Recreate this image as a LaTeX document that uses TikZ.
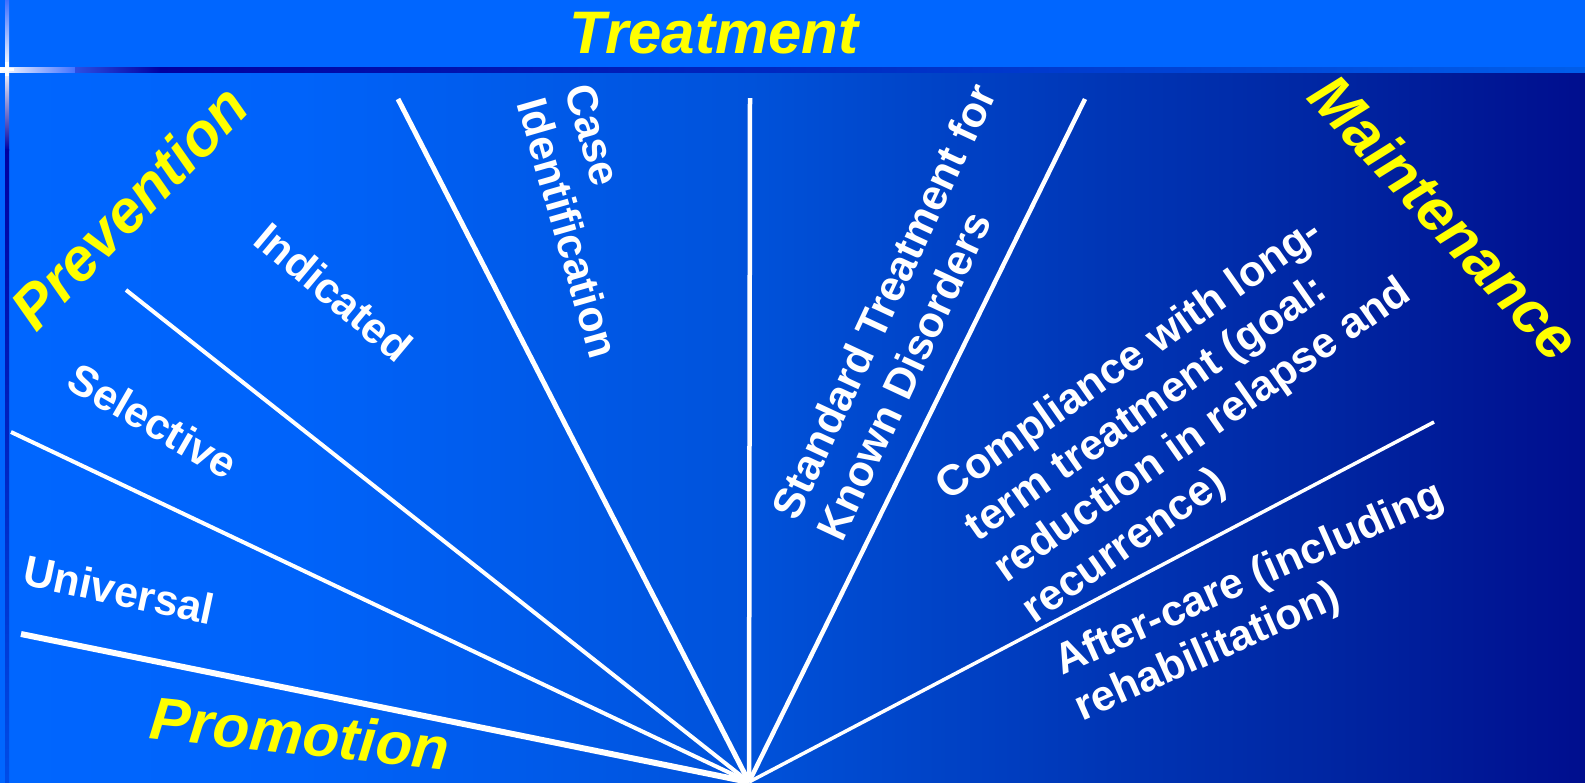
\documentclass[tikz,border=0pt]{standalone}
\usepackage{fontspec}
\setmainfont{Liberation Sans}
\definecolor{barblue}{HTML}{0066FF}
\definecolor{bgA}{HTML}{0066FF}
\definecolor{bgB}{HTML}{0063FA}
\definecolor{bgC}{HTML}{0052DA}
\definecolor{bgD}{HTML}{0036B6}
\definecolor{bgE}{HTML}{0024A0}
\definecolor{bgF}{HTML}{000E8E}
\definecolor{darkrule}{HTML}{0000A0}
\definecolor{lightrule}{HTML}{4070FF}
\definecolor{ttyellow}{HTML}{FFFF00}
\begin{document}
\begin{tikzpicture}[x=1pt,y=-1pt,
  wline/.style={draw=white,line cap=butt},
  wtext/.style={text=white,font=\bfseries\fontsize{43}{50}\selectfont,inner sep=0pt,align=left},
  ytext/.style={text=ttyellow,font=\bfseries\itshape\fontsize{60}{62}\selectfont,inner sep=0pt}]
\useasboundingbox (0,0) rectangle (1585,782);
% background
\fill[left color=bgA,right color=bgB] (0,66) rectangle (301,782);
\fill[left color=bgB,right color=bgC] (300,66) rectangle (751,782);
\fill[left color=bgC,right color=bgD] (750,66) rectangle (1101,782);
\fill[left color=bgD,right color=bgE] (1100,66) rectangle (1351,782);
\fill[left color=bgE,right color=bgF] (1350,66) rectangle (1585,782);
% top bar
\fill[barblue] (0,0) rectangle (1585,67);
% rule under bar
\fill[left color=white,right color=lightrule] (0,67) rectangle (76,72);
\fill[left color=lightrule!70!darkrule,right color=darkrule] (75,67) rectangle (161,72);
\fill[left color=darkrule,right color=barblue!92!black] (160,67) rectangle (1585,72);
% vertical rule
\fill[top color=lightrule,bottom color=white] (5,0) rectangle (9,68);
\fill[top color=white,bottom color=darkrule] (5,68) rectangle (9,150);
\fill[top color=darkrule,bottom color=bgA!75!darkrule] (5,149) rectangle (9,782);
\fill[white] (0,68) rectangle (14,71);
\fill[white] (5,62) rectangle (9,76);
% hub and rays
\coordinate (hub) at (749,782);
\coordinate (e1) at (21,634);
\coordinate (e2) at (11,432);
\coordinate (e3) at (126,290);
\coordinate (e4) at (398,99);
\coordinate (e5) at (750,98);
\coordinate (e6) at (1085,99);
\coordinate (e7) at (1434,422);
\draw[wline,line width=6pt] (hub) -- (e1);
\draw[wline,line width=4pt] (hub) -- (e2);
\draw[wline,line width=4pt] (hub) -- (e3);
\draw[wline,line width=5pt] (hub) -- (e4);
\draw[wline,line width=4.5pt] (hub) -- (e5);
\draw[wline,line width=4.5pt] (hub) -- (e6);
\draw[wline,line width=3.5pt] (hub) -- (e7);
% yellow titles
\node[ytext,anchor=base] (treat) at (714,53) {Treatment};
\node[ytext,rotate=46] (prev) at (129,207) {Prevention};
\node[ytext,rotate=-47] (maint) at (1445,217) {Maintenance};
\node[ytext,rotate=-6] (promo) at (300,733) {Promotion};
% white labels
\node[wtext,rotate=-12] (univ) at (119,590) {Universal};
\node[wtext,rotate=-30] (sel) at (153,421) {Selective};
\node[wtext,rotate=-40] (ind) at (334,292) {Indicated};
\node[wtext,rotate=-74] (case) at (592,221) {Case\\Identification};
\node[wtext,rotate=65] (std) at (906,312) {Standard Treatment for\\Known Disorders};
\node[wtext,rotate=35] (comp) at (1189,411) {Compliance with long-\\term treatment (goal:\\reduction in relapse and\\recurrence)};
\node[wtext,rotate=24] (after) at (1260,603) {After-care (including\\rehabilitation)};
\end{tikzpicture}
\end{document}
